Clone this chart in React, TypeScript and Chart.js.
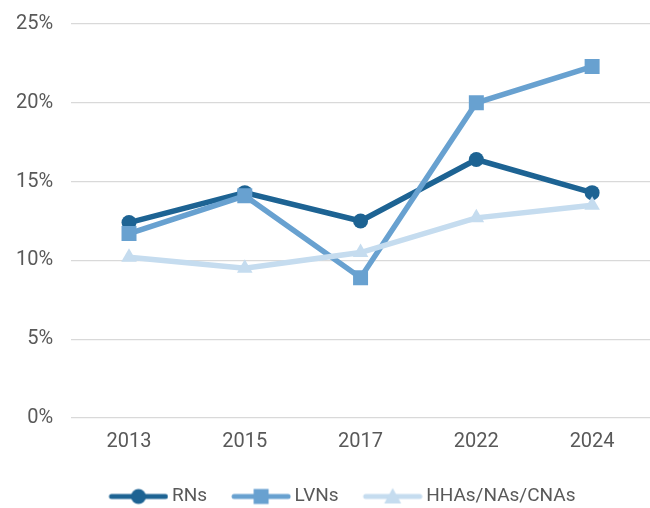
import React, { useEffect, useRef } from "react";
import { Chart, registerables } from "chart.js";

Chart.register(...registerables);

const years = ["2013", "2015", "2017", "2022", "2024"];
const rns = [12.4, 14.3, 12.5, 16.4, 14.3];
const lvns = [11.7, 14.1, 8.9, 20.0, 22.3];
const hhas = [10.2, 9.5, 10.5, 12.7, 13.5];
const seriesNames = ["RNs", "LVNs", "HHAs/NAs/CNAs"];
const yTicks = [0, 5, 10, 15, 20, 25];

const colors = ["#1d6393", "#68a1d0", "#c5dcef"];
const FONT = "Roboto, sans-serif";
const TEXT = "#595959";

function legendImage(color: string, style: string): HTMLCanvasElement {
  const c = document.createElement("canvas");
  c.width = 84;
  c.height = 20;
  const ctx = c.getContext("2d")!;
  ctx.strokeStyle = color;
  ctx.fillStyle = color;
  ctx.lineWidth = 5;
  ctx.lineCap = "round";
  ctx.beginPath();
  ctx.moveTo(27, 10);
  ctx.lineTo(81, 10);
  ctx.stroke();
  ctx.beginPath();
  const cx = 54;
  if (style === "circle") {
    ctx.arc(cx, 10, 7.5, 0, Math.PI * 2);
  } else if (style === "rect") {
    ctx.rect(cx - 7.5, 2.5, 15, 15);
  } else {
    ctx.moveTo(cx, 1.5);
    ctx.lineTo(cx + 8.5, 17);
    ctx.lineTo(cx - 8.5, 17);
    ctx.closePath();
  }
  ctx.fill();
  return c;
}

export default function App() {
  const ref = useRef<HTMLCanvasElement>(null);
  useEffect(() => {
    const styles = ["circle", "rect", "triangle"];
    const radii = [7.5, 10.6, 9];
    const values = [rns, lvns, hhas];
    const chart = new Chart(ref.current!, {
      type: "line",
      data: {
        labels: years,
        datasets: values.map((v, i) => ({
          label: seriesNames[i],
          data: v,
          borderColor: colors[i],
          backgroundColor: colors[i],
          pointBackgroundColor: colors[i],
          pointBorderColor: colors[i],
          pointBorderWidth: 0,
          borderWidth: 5.5,
          pointStyle: styles[i] as any,
          pointRadius: radii[i],
          pointHoverRadius: radii[i],
          tension: 0,
          order: 3 - i,
        })),
      },
      options: {
        responsive: false,
        animation: false,
        layout: { autoPadding: false, padding: { top: 24, left: 16, right: 0, bottom: 0 } },
        plugins: {
          tooltip: { enabled: false },
          legend: {
            position: "bottom",
            labels: {
              usePointStyle: true,
              pointStyleWidth: 72,
              padding: 6,
              color: TEXT,
              font: { family: FONT, size: 19 },
              generateLabels: (ch: any) =>
                ch.data.datasets.map((ds: any, i: number) => ({
                  text: ds.label,
                  fillStyle: colors[i],
                  strokeStyle: colors[i],
                  lineWidth: 0,
                  pointStyle: legendImage(colors[i], styles[i]),
                  hidden: false,
                  datasetIndex: i,
                  fontColor: TEXT,
                })),
            },
          },
        },
        scales: {
          x: {
            offset: true,
            grid: { display: false, drawTicks: true, tickLength: 12 },
            border: { display: false },
            ticks: { color: TEXT, font: { family: FONT, size: 20 }, padding: 0 },
            afterFit: (s: any) => {
              s.height += 27;
              s.paddingLeft = 0;
              s.paddingRight = 0;
            },
          },
          y: {
            min: 0,
            max: 25,
            afterBuildTicks: (s: any) => {
              s.ticks = yTicks.map((v) => ({ value: v }));
            },
            afterFit: (s: any) => {
              s.paddingTop = 0;
              s.paddingBottom = 0;
            },
            grid: { color: "#d9d9d9", lineWidth: 1.2, drawTicks: true, tickLength: 18, tickColor: "rgba(0,0,0,0)" },
            border: { display: false },
            ticks: {
              color: TEXT,
              font: { family: FONT, size: 20 },
              padding: 0,
              callback: (v: any) => v + "%",
            },
          },
        },
      },
    });
    return () => chart.destroy();
  }, []);
  return (
    <div style={{ position: "absolute", left: 0, top: 0, width: 650, height: 508, overflow: "hidden" }}>
      <canvas ref={ref} width={650} height={516} style={{ display: "block" }} />
    </div>
  );
}
